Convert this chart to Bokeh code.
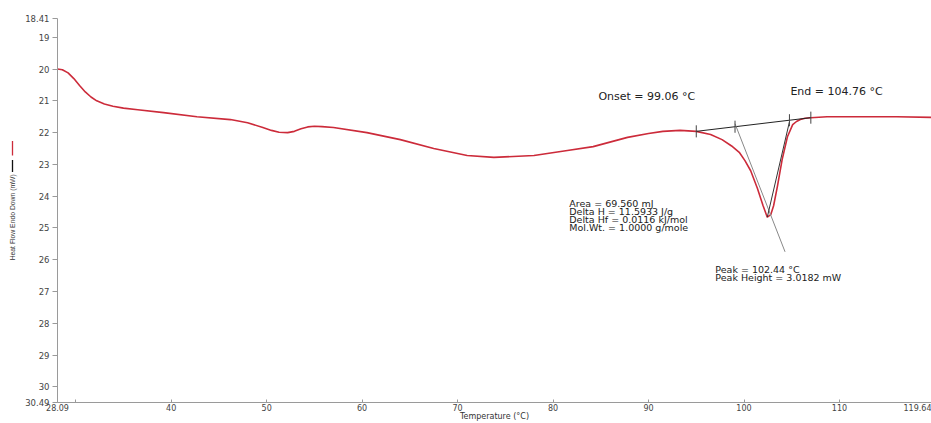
import math
import numpy as np
from bokeh.plotting import figure
from bokeh.layouts import row
from bokeh.models import Range1d, FixedTicker, Label
from bokeh.core.properties import value
from bokeh.embed import file_html
from bokeh.resources import INLINE

# ---- data ----
temperature = [28.09, 28.6, 29.2, 29.8, 30.4, 31.0, 31.6, 32.2, 33.0, 33.9, 35.0, 36.5,
               39.2, 42.7, 46.2, 48.0, 49.6, 50.5, 51.3, 52.2, 52.9, 53.6, 54.3, 55.0,
               55.8, 57.0, 60.5, 64.0, 67.5, 71.0, 73.8, 78.0, 81.5, 84.2, 87.8, 90.0,
               91.5, 93.3, 95.0, 96.5, 97.7, 98.7, 99.5, 100.1, 100.7, 101.4, 102.0,
               102.44, 102.8, 103.1, 103.5, 104.0, 104.55, 105.1, 105.5, 105.9, 106.4,
               107.0, 108.7, 112.0, 116.0, 119.64]
heat_flow = [20.0, 20.02, 20.12, 20.3, 20.52, 20.72, 20.88, 21.0, 21.1, 21.17, 21.23, 21.28,
             21.37, 21.5, 21.59, 21.69, 21.84, 21.93, 21.99, 22.0, 21.96, 21.88, 21.82, 21.8,
             21.81, 21.84, 22.0, 22.22, 22.5, 22.72, 22.78, 22.72, 22.56, 22.44, 22.15, 22.03,
             21.96, 21.93, 21.96, 22.06, 22.22, 22.42, 22.62, 22.88, 23.2, 23.75, 24.3,
             24.66, 24.58, 24.3, 23.69, 22.84, 22.13, 21.75, 21.65, 21.59, 21.55,
             21.53, 21.5, 21.5, 21.5, 21.52]

baseline_x = [95.0, 107.0]
baseline_y = [21.96, 21.53]
onset_tangent_x = [99.06, 104.3]
onset_tangent_y = [21.72, 25.75]
end_tangent_x = [104.76, 102.44]
end_tangent_y = [21.66, 24.66]
baseline_marks = [95.0, 99.06, 104.76, 107.0]

x_ticks = [28.09, 30, 40, 50, 60, 70, 80, 90, 100, 110, 119.64]
x_tick_labels = ["28.09", "", "40", "50", "60", "70", "80", "90", "100", "110", "119.64"]
y_ticks = [18.41, 19, 20, 21, 22, 23, 24, 25, 26, 27, 28, 29, 30, 30.49]
y_tick_labels = ["18.41", "19", "20", "21", "22", "23", "24", "25", "26", "27", "28",
                 "29", "30", "30.49"]

y_title = "Heat Flow Endo Down (mW)"
series_colors = ["#cc2b3a", "#111111"]
onset_text = "Onset = 99.06 °C"
end_text = "End = 104.76 °C"
area_lines = ["Area = 69.560 mJ", "Delta H = 11.5933 J/g",
              "Delta Hf = 0.0116 kJ/mol", "Mol.Wt. = 1.0000 g/mole"]
peak_lines = ["Peak = 102.44 °C", "Peak Height = 3.0182 mW"]

FONT = "DejaVu Sans"

# ---- narrow side strip carrying the y title and its two legend marks ----
side = figure(width=20, height=423, output_backend="svg", toolbar_location=None,
              x_range=Range1d(0, 20), y_range=Range1d(423, 0), min_border=0)
side.outline_line_color = None
side.axis.visible = False
side.grid.visible = False
side.text(x=[12], y=[219], text=[y_title], angle=math.pi / 2,
          text_align="center", text_baseline="middle",
          text_font=value("Liberation Sans"),
          text_font_size="6.8px", text_color="#333333")
side.segment(x0=[12, 12], y0=[135, 156], x1=[12, 12], y1=[151, 169],
             line_color=series_colors, line_width=1.3)

# ---- main plot ----
p = figure(width=911, height=423, output_backend="svg", toolbar_location=None,
           x_range=Range1d(28.09, 119.64), y_range=Range1d(30.49, 18.41),
           min_border_left=37, min_border_right=0, min_border_top=18,
           min_border_bottom=16)
p.outline_line_color = None
p.xgrid.visible = False
p.ygrid.visible = False

p.xaxis.ticker = FixedTicker(ticks=x_ticks)
p.xaxis.major_label_overrides = {t: l for t, l in zip(x_ticks, x_tick_labels)}
p.yaxis.ticker = FixedTicker(ticks=y_ticks)
p.yaxis.major_label_overrides = {t: l for t, l in zip(y_ticks, y_tick_labels)}
for ax in (p.xaxis, p.yaxis):
    ax.axis_line_color = "#9a9a9a"
    ax.major_tick_line_color = "#9a9a9a"
    ax.minor_tick_line_color = None
    ax.major_label_text_font = FONT
    ax.major_label_text_font_size = "8.5px"
    ax.major_label_text_color = "#444444"
    ax.axis_label_text_font = FONT
    ax.axis_label_text_font_style = "normal"
    ax.axis_label_text_color = "#333333"
p.xaxis.major_label_text_font_size = "8px"
p.xaxis.major_tick_in = 3
p.xaxis.major_tick_out = 0
p.xaxis.major_label_standoff = 1
p.xaxis.axis_label = "Temperature (°C)"
p.xaxis.axis_label_text_font_size = "8px"
p.xaxis.axis_label_standoff = -2
p.yaxis.major_tick_in = 0
p.yaxis.major_tick_out = 5
p.yaxis.major_label_standoff = 3

# curve
p.line(temperature, heat_flow, line_color=series_colors[0], line_width=1.6)

# construction lines
p.line(baseline_x, baseline_y, line_color="#222222", line_width=1)
p.line(onset_tangent_x, onset_tangent_y, line_color="#888888", line_width=1)
p.line(end_tangent_x, end_tangent_y, line_color="#333333", line_width=1)
mark_y = np.interp(baseline_marks, baseline_x, baseline_y)
p.segment(x0=baseline_marks, y0=mark_y - 0.19, x1=baseline_marks, y1=mark_y + 0.19,
          line_color="#444444", line_width=1)

# annotations
def add_text(x, y, txt, size):
    p.add_layout(Label(x=x, y=y, text=txt, text_font=FONT,
                       text_font_size=size, text_color="#222222",
                       text_align="left", text_baseline="middle"))

add_text(84.75, 20.875, onset_text, "11px")
add_text(104.86, 20.72, end_text, "11px")
for i, t in enumerate(area_lines):
    add_text(81.7, 24.22 + 0.25 * i, t, "9.5px")
for i, t in enumerate(peak_lines):
    add_text(97.0, 26.3 + 0.25 * i, t, "9.5px")

layout = row(side, p, spacing=0)
open("out.html", "w").write(file_html(layout, INLINE))
